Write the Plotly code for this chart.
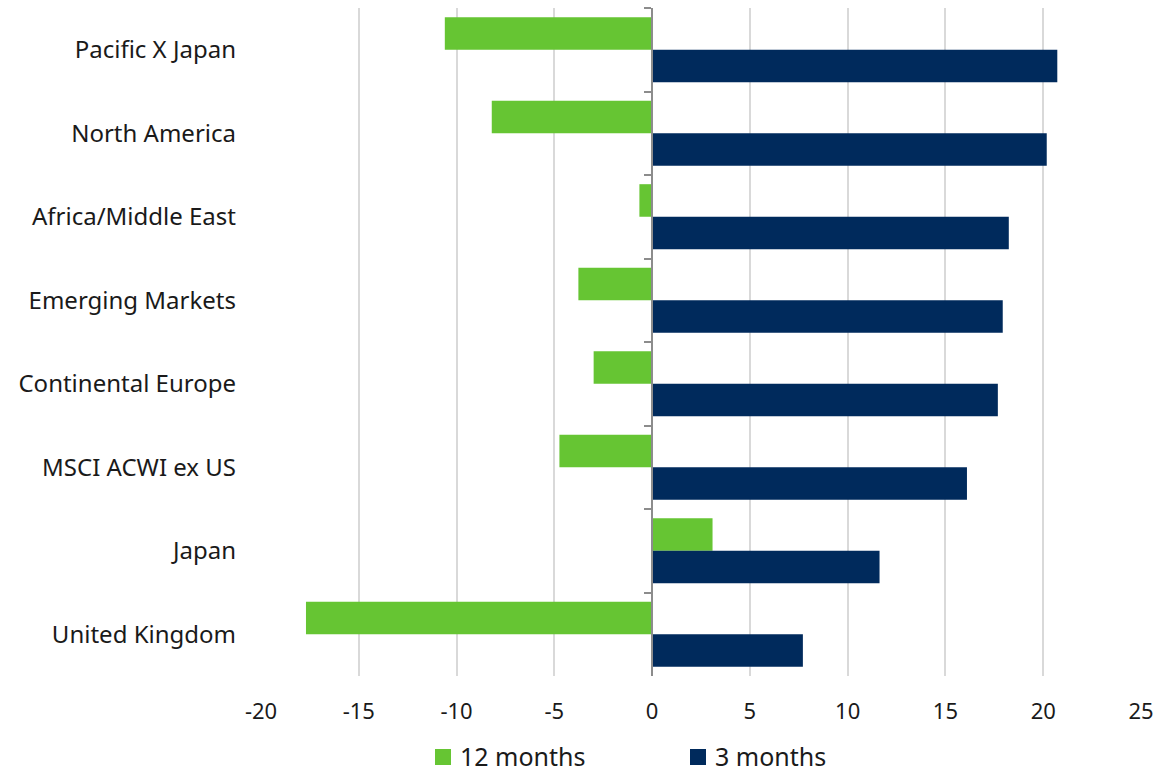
import plotly.graph_objects as go

# Regional equity returns (%)
regions = [
    "Pacific X Japan",
    "North America",
    "Africa/Middle East",
    "Emerging Markets",
    "Continental Europe",
    "MSCI ACWI ex US",
    "Japan",
    "United Kingdom",
]
returns_12m = [-10.6, -8.2, -0.65, -3.77, -2.99, -4.74, 3.09, -17.7]
returns_3m = [20.72, 20.18, 18.24, 17.93, 17.68, 16.1, 11.63, 7.71]
x_ticks = [-20, -15, -10, -5, 0, 5, 10, 15, 20, 25]
series_names = ["12 months", "3 months"]

GREEN = "#66c533"
NAVY = "#002a5c"
FONT = "Noto Sans"

W, H = 1158, 774
M_L, M_R, M_T, M_B = 261, 17, 8, 98
plot_w = W - M_L - M_R
plot_h = H - M_T - M_B

fig = go.Figure()
fig.add_trace(go.Bar(
    y=regions, x=returns_12m, orientation="h", name=series_names[0],
    marker=dict(color=GREEN, line=dict(width=0)), showlegend=False,
))
fig.add_trace(go.Bar(
    y=regions, x=returns_3m, orientation="h", name=series_names[1],
    marker=dict(color=NAVY, line=dict(width=0)), showlegend=False,
))
# invisible helper trace so the zero-positioned category axis is drawn
fig.add_trace(go.Scatter(
    y=regions, x=[0] * len(regions), yaxis="y2", mode="lines",
    line=dict(width=0), showlegend=False, hoverinfo="skip",
))

x_min, x_max = x_ticks[0], x_ticks[-1]
zero_pos = (0 - x_min) / (x_max - x_min)


def px_to_paper_x(px):
    return (px - M_L) / plot_w


def px_to_paper_y(py):
    return (H - M_B - py) / plot_h


# legend below the axis: colour squares followed by series names
shapes = []
annotations = []
legend_items = [(series_names[0], GREEN, 435), (series_names[1], NAVY, 690)]
sq = 16
legend_mid = 756
for name, color, left in legend_items:
    shapes.append(dict(
        type="rect", xref="paper", yref="paper",
        x0=px_to_paper_x(left), x1=px_to_paper_x(left + sq),
        y0=px_to_paper_y(legend_mid + sq / 2 + 1),
        y1=px_to_paper_y(legend_mid - sq / 2 + 1),
        fillcolor=color, line=dict(width=0),
    ))
    annotations.append(dict(
        text=name, xref="paper", yref="paper",
        x=px_to_paper_x(left + sq + 8), xanchor="left",
        y=px_to_paper_y(legend_mid), yanchor="middle",
        showarrow=False, borderpad=0,
        font=dict(size=25, family=FONT, color="#1a1a1a"),
    ))

fig.update_layout(
    width=W, height=H,
    margin=dict(l=M_L, r=M_R, t=M_T, b=M_B, autoexpand=False),
    paper_bgcolor="white", plot_bgcolor="white",
    font=dict(family=FONT, size=24, color="#1a1a1a"),
    barmode="group", bargap=0.22, bargroupgap=0,
    showlegend=False,
    shapes=shapes, annotations=annotations,
    xaxis=dict(
        range=[x_min, x_max], tickvals=x_ticks,
        ticktext=[str(v) for v in x_ticks],
        showgrid=True, gridcolor="#d9d9d9", gridwidth=2,
        zeroline=False, showline=False, ticks="",
        ticklabelstandoff=20,
        tickfont=dict(size=22),
    ),
    yaxis=dict(
        autorange="reversed", showgrid=False, zeroline=False,
        showline=False, ticks="", ticklabelstandoff=24,
    ),
    yaxis2=dict(
        overlaying="y", matches="y", anchor="free", position=zero_pos,
        showline=True, linecolor="#8c8c8c", linewidth=2,
        ticks="outside", tickson="boundaries", ticklen=7,
        tickcolor="#8c8c8c", tickwidth=2,
        showticklabels=False, showgrid=False, zeroline=False,
    ),
)

fig.write_html("out.html")
